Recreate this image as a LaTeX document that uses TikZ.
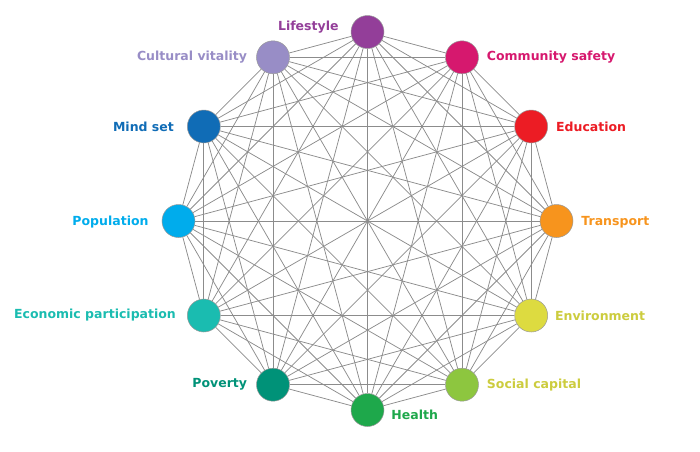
\documentclass[tikz,border=0pt]{standalone}
\usepackage{fontspec}
\setmainfont{DejaVu Sans}
\usetikzlibrary{positioning}

\definecolor{lifestyle}{RGB}{147,62,153}
\definecolor{community}{RGB}{214,24,110}
\definecolor{education}{RGB}{236,28,36}
\definecolor{transport}{RGB}{247,148,29}
\definecolor{environment}{RGB}{221,219,64}
\definecolor{socialcap}{RGB}{141,198,63}
\definecolor{olivetext}{RGB}{204,204,62}
\definecolor{health}{RGB}{30,168,75}
\definecolor{poverty}{RGB}{0,146,120}
\definecolor{economic}{RGB}{26,188,176}
\definecolor{population}{RGB}{0,172,236}
\definecolor{mindset}{RGB}{16,108,182}
\definecolor{cultural}{RGB}{152,141,198}

\begin{document}
\begin{tikzpicture}[x=1pt,y=1pt]
		\tikzstyle{vertex}=[circle,draw=black!40,line width=0.5pt,inner sep=0pt,minimum size=33pt]
		\tikzstyle{edge} = [draw,line width=0.75pt,black!45]
		\tikzstyle{tag}=[font=\fontsize{12.5}{15}\selectfont\bfseries,inner sep=0pt]
		
		\useasboundingbox (-367.5,221) rectangle (332.5,-230);
		
		\node[vertex,fill=lifestyle] (v0) at (90:189) {};
		\node[vertex,fill=community] (v1) at (60:189) {};
		\node[vertex,fill=education] (v2) at (30:189) {};
		\node[vertex,fill=transport] (v3) at (0:189) {};
		\node[vertex,fill=environment] (v4) at (-30:189) {};
		\node[vertex,fill=socialcap] (v5) at (-60:189) {};
		\node[vertex,fill=health] (v6) at (-90:189) {};
		\node[vertex,fill=poverty] (v7) at (-120:189) {};
		\node[vertex,fill=economic] (v8) at (-150:189) {};
		\node[vertex,fill=population] (v9) at (180:189) {};
		\node[vertex,fill=mindset] (v10) at (150:189) {};
		\node[vertex,fill=cultural] (v11) at (120:189) {};
		
		% every pair is joined
		\foreach \i in {0,...,10} {
			\pgfmathtruncatemacro\first{\i+1}
			\foreach \j in {\first,...,11}
				\draw[edge] (v\i) -- (v\j);
		}
		
		\node[tag,text=lifestyle,left=12pt of v0,yshift=5pt] (l0) {Lifestyle};
		\node[tag,text=community,right=8pt of v1] (l1) {Community safety};
		\node[tag,text=education,right=8pt of v2] (l2) {Education};
		\node[tag,text=transport,right=8pt of v3,yshift=-1pt] (l3) {Transport};
		\node[tag,text=olivetext,right=7pt of v4] (l4) {Environment};
		\node[tag,text=olivetext,right=8pt of v5] (l5) {Social capital};
		\node[tag,text=health,right=7pt of v6,yshift=-5pt] (l6) {Health};
		\node[tag,text=poverty,left=9pt of v7] (l7) {Poverty};
		\node[tag,text=economic,left=11pt of v8] (l8) {Economic participation};
		\node[tag,text=population,left=13pt of v9,yshift=-1pt] (l9) {Population};
		\node[tag,text=mindset,left=13pt of v10] (l10) {Mind set};
		\node[tag,text=cultural,left=9pt of v11] (l11) {Cultural vitality};
\end{tikzpicture}
\end{document}
